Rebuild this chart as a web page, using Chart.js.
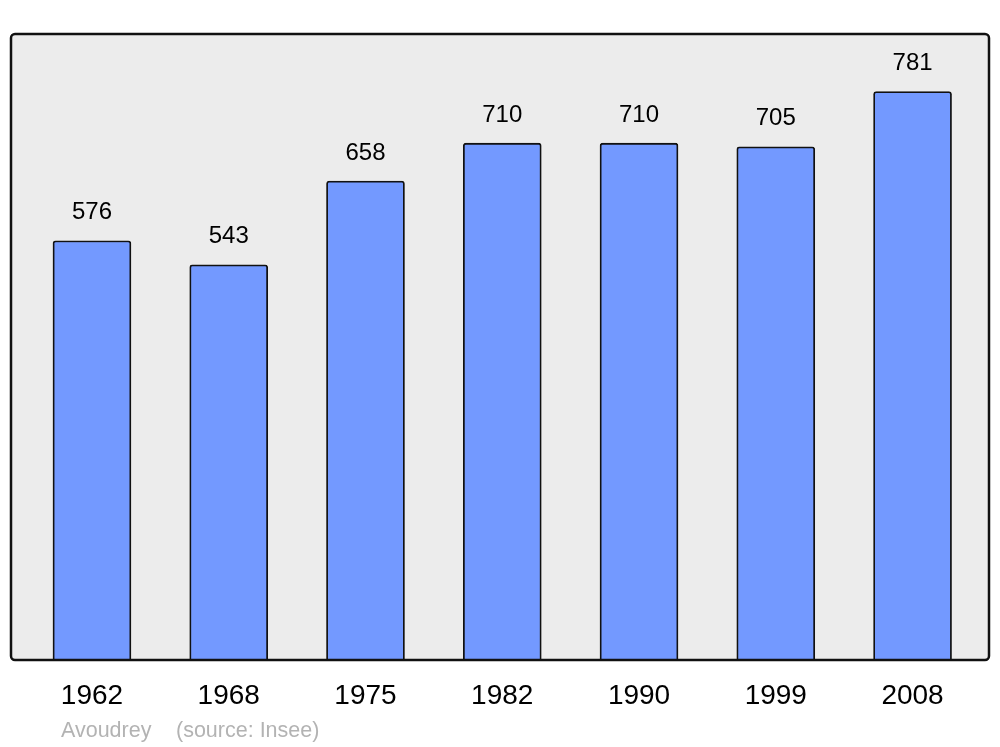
<!DOCTYPE html>
<html>
<head>
<meta charset="utf-8">
<script src="https://cdn.jsdelivr.net/npm/chart.js@4/dist/chart.umd.min.js"></script>
<style>
  body { margin: 0; background: #fff; }
  #wrap { width: 1000px; height: 747px; position: relative; }
</style>
</head>
<body>
<div id="wrap"><canvas id="chart"></canvas></div>
<script>
const years = ['1962', '1968', '1975', '1982', '1990', '1999', '2008'];
const population = [576, 543, 658, 710, 710, 705, 781];
const placeName = 'Avoudrey';
const sourceNote = '(source: Insee)';

// plot frame: grey panel + black rounded border
const framePlugin = {
  id: 'frame',
  beforeDraw(chart) {
    const { ctx, chartArea: a } = chart;
    ctx.save();
    ctx.fillStyle = '#ececec';
    ctx.beginPath();
    ctx.roundRect(a.left, a.top, a.right - a.left, a.bottom - a.top, 4);
    ctx.fill();
    ctx.restore();
  },
  afterDatasetsDraw(chart) {
    const { ctx, chartArea: a } = chart;
    ctx.save();
    ctx.strokeStyle = '#111';
    ctx.lineWidth = 2.5;
    ctx.beginPath();
    ctx.roundRect(a.left, a.top, a.right - a.left, a.bottom - a.top, 4);
    ctx.stroke();

    // value labels over bars
    ctx.fillStyle = '#000';
    ctx.font = '24px "Liberation Sans", Arial, sans-serif';
    ctx.textAlign = 'center';
    ctx.textBaseline = 'middle';
    chart.getDatasetMeta(0).data.forEach((bar, i) => {
      ctx.fillText(String(population[i]), bar.x, bar.y - 28);
    });

    // source line
    ctx.fillStyle = '#b3b3b3';
    ctx.font = '21.5px "Liberation Sans", Arial, sans-serif';
    ctx.textAlign = 'left';
    ctx.textBaseline = 'alphabetic';
    ctx.fillText(placeName, 61, 737);
    ctx.fillText(sourceNote, 176, 737);
    ctx.restore();
  }
};

new Chart(document.getElementById('chart'), {
  type: 'bar',
  data: {
    datasets: [{
      data: population.map((v, i) => ({ x: i, y: v })),
      backgroundColor: 'rgb(115,153,255)',
      borderColor: '#111',
      borderWidth: 1.8,
      borderSkipped: 'bottom',
      borderRadius: { topLeft: 3, topRight: 3 },
      barThickness: 78
    }]
  },
  options: {
    responsive: true,
    maintainAspectRatio: false,
    animation: false,
    layout: { padding: { left: 11, right: 11, top: 34, bottom: 0 } },
    plugins: { legend: { display: false }, tooltip: { enabled: false } },
    scales: {
      x: {
        type: 'linear',
        offset: false,
        min: -0.592,
        max: 6.559,
        afterBuildTicks: (axis) => { axis.ticks = years.map((_, i) => ({ value: i })); },
        afterFit: (axis) => { axis.height = 87; },
        grid: { display: false, drawTicks: false },
        border: { display: false },
        ticks: {
          padding: 19,
          color: '#000',
          font: { size: 28, family: '"Liberation Sans", Arial, sans-serif' },
          callback: (v) => years[v] ?? ''
        }
      },
      y: {
        display: false,
        min: 0,
        max: 860
      }
    }
  },
  plugins: [framePlugin]
});
</script>
</body>
</html>
